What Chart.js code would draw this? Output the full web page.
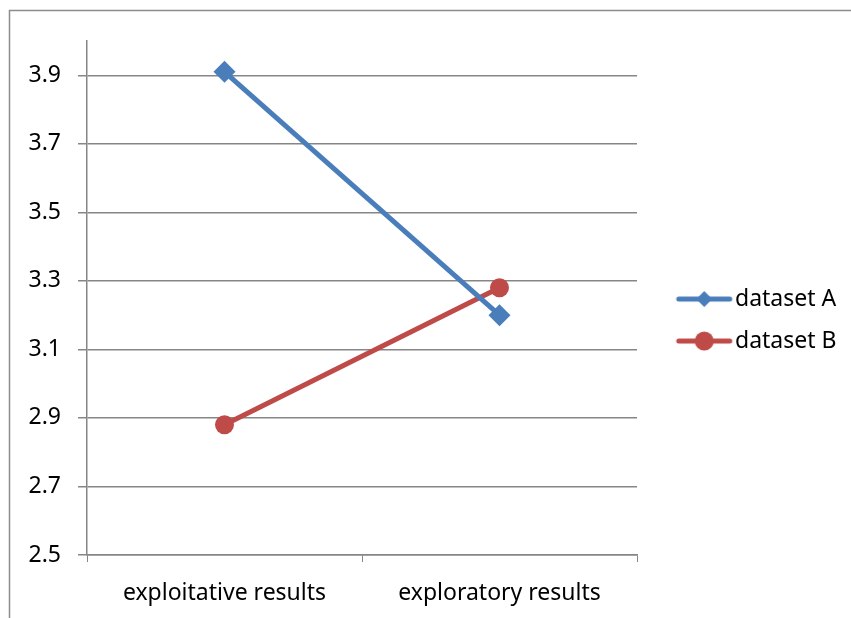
<!DOCTYPE html>
<html>
<head>
<meta charset="utf-8">
<script src="https://cdn.jsdelivr.net/npm/chart.js@4"></script>
<style>
  body { margin: 0; background: #fff; }
  #wrap { width: 851px; height: 618px; }
</style>
</head>
<body>
<div id="wrap"><canvas id="chart"></canvas></div>
<script>
const categories = ['exploitative results', 'exploratory results'];
const seriesA = [3.91, 3.20];
const seriesB = [2.88, 3.28];
const yTicks = [2.5, 2.7, 2.9, 3.1, 3.3, 3.5, 3.7, 3.9];

const blue = '#4A7EBB';
const red = '#BE4B48';
const gridGray = '#868686';
const font = { family: '"Noto Sans", sans-serif', size: 23 };

// legend sample: line with marker, drawn in the right part of a wider image
function legendIcon(color, style) {
    const c = document.createElement('canvas');
    c.width = 90; c.height = 22;
    const g = c.getContext('2d');
    g.strokeStyle = color;
    g.lineWidth = 5;
    g.lineCap = 'round';
    g.beginPath(); g.moveTo(34, 11); g.lineTo(85, 11); g.stroke();
    g.fillStyle = color;
    g.beginPath();
    if (style === 'diamond') {
        g.moveTo(59.5, 3); g.lineTo(67.5, 11); g.lineTo(59.5, 19); g.lineTo(51.5, 11);
    } else {
        g.arc(59.5, 11, 9.5, 0, Math.PI * 2);
    }
    g.fill();
    return c;
}

const frame = {
    id: 'frame',
    beforeDraw(chart) {
        const g = chart.ctx;
        g.save();
        g.strokeStyle = '#8c8c8c';
        g.lineWidth = 1.5;
        g.strokeRect(9.5, 10.5, 900, 700);
        g.restore();
    }
};

const ctx = document.querySelector('#chart').getContext('2d');
const chart = new Chart(ctx, {
    type: 'line',
    data: {
        labels: categories,
        datasets: [{
            label: 'dataset A',
            data: seriesA,
            borderColor: blue,
            backgroundColor: blue,
            borderWidth: 5,
            pointStyle: 'rectRot',
            pointRadius: 11,
            pointHoverRadius: 11,
            pointBorderWidth: 0
        }, {
            label: 'dataset B',
            data: seriesB,
            borderColor: red,
            backgroundColor: red,
            borderWidth: 5,
            pointStyle: 'circle',
            pointRadius: 9.5,
            pointHoverRadius: 9.5,
            pointBorderWidth: 0
        }]
    },
    options: {
        responsive: true,
        maintainAspectRatio: false,
        animation: false,
        layout: { padding: { left: 10, top: 41, right: 5, bottom: 8 } },
        plugins: {
            tooltip: { enabled: false },
            legend: {
                position: 'right',
                fullSize: false,
                // blank title just nudges the entries down a little
                title: { display: true, text: ' ', padding: 0, font: { size: 36.7 } },
                labels: {
                    color: '#000',
                    font: font,
                    usePointStyle: true,
                    pointStyleWidth: 67.5,
                    padding: 19,
                    generateLabels(chart) {
                        return chart.data.datasets.map((ds, i) => ({
                            text: ds.label,
                            datasetIndex: i,
                            fontColor: '#000',
                            pointStyle: legendIcon(ds.borderColor, i === 0 ? 'diamond' : 'circle'),
                            lineWidth: 0,
                            strokeStyle: 'transparent',
                            fillStyle: 'transparent'
                        }));
                    }
                }
            }
        },
        scales: {
            x: {
                offset: true,
                afterFit(s) { s.height = 55; },
                grid: {
                    offset: true,
                    drawOnChartArea: false,
                    color: gridGray,
                    tickLength: 7
                },
                border: { color: gridGray, width: 1.5 },
                ticks: { color: '#000', font: font, padding: 18, maxRotation: 0 }
            },
            y: {
                min: 2.5,
                max: 4.0,
                afterFit(s) { s.width = 77; },
                afterBuildTicks(s) { s.ticks = yTicks.map(v => ({ value: v })); },
                grid: { color: gridGray, lineWidth: 1.5, tickLength: 9 },
                border: { color: gridGray, width: 1.5 },
                ticks: {
                    color: '#000',
                    font: font,
                    padding: 17,
                    callback: v => v.toFixed(1)
                }
            }
        }
    },
    plugins: [frame]
});
</script>
</body>
</html>
